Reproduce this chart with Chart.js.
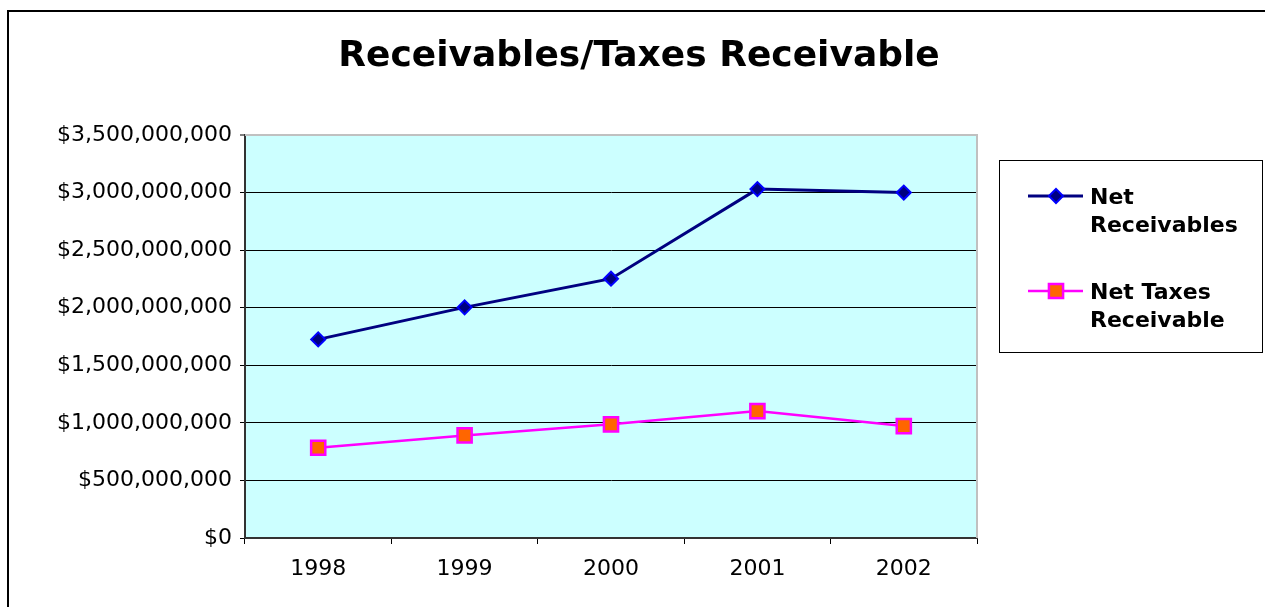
<!DOCTYPE html>
<html>
<head>
<meta charset="utf-8">
<script src="https://cdn.jsdelivr.net/npm/chart.js@4.4.0/dist/chart.umd.min.js"></script>
<style>
  html, body { margin: 0; padding: 0; background: #ffffff; }
  #wrap { position: relative; width: 1265px; height: 607px; }
</style>
</head>
<body>
<div id="wrap"><canvas id="c" width="1265" height="607"></canvas></div>
<script>
// ---- Data ----
const chartTitle = "Receivables/Taxes Receivable";
const years = ["1998", "1999", "2000", "2001", "2002"];
const netReceivables = [1725000000, 2003000000, 2252000000, 3030000000, 3000000000];
const netTaxesReceivable = [784000000, 891000000, 987000000, 1102000000, 972000000];
const seriesLabels = [["Net", "Receivables"], ["Net Taxes", "Receivable"]];
const yMin = 0, yMax = 3500000000, yStep = 500000000;

const FONT = "'DejaVu Sans', Verdana, sans-serif";

const framePlugin = {
  id: 'frame',
  beforeDraw(chart) {
    const { ctx, chartArea: a } = chart;
    ctx.save();
    ctx.fillStyle = '#ffffff';
    ctx.fillRect(0, 0, chart.width, chart.height);
    ctx.fillStyle = '#ccffff';
    ctx.fillRect(a.left, a.top, a.right - a.left, a.bottom - a.top);
    // outer frame
    ctx.strokeStyle = '#000000';
    ctx.lineWidth = 2;
    ctx.beginPath();
    ctx.moveTo(8, chart.height);
    ctx.lineTo(8, 11);
    ctx.lineTo(chart.width, 11);
    ctx.stroke();
    ctx.restore();
  },
  beforeDatasetsDraw(chart) {
    const { ctx, chartArea: a } = chart;
    ctx.save();
    ctx.strokeStyle = '#c0c0c0';
    ctx.lineWidth = 2;
    ctx.beginPath();
    ctx.moveTo(a.left, a.top);
    ctx.lineTo(a.right, a.top);
    ctx.lineTo(a.right, a.bottom);
    ctx.stroke();
    ctx.restore();
  },
  afterDraw(chart) {
    const { ctx } = chart;
    ctx.save();
    // title
    ctx.fillStyle = '#000000';
    ctx.font = "bold 36px " + FONT;
    ctx.textAlign = 'center';
    ctx.textBaseline = 'middle';
    ctx.fillText(chartTitle, 639, 57);
    // legend box
    ctx.strokeStyle = '#000000';
    ctx.lineWidth = 1;
    ctx.strokeRect(999.5, 160.5, 263, 192);
    chart.data.datasets.forEach((ds, i) => {
      const y0 = 196 + i * 95;
      ctx.strokeStyle = ds.borderColor;
      ctx.lineWidth = ds.borderWidth;
      ctx.beginPath();
      ctx.moveTo(1028, y0);
      ctx.lineTo(1083, y0);
      ctx.stroke();
      ctx.fillStyle = ds.pointBackgroundColor;
      ctx.strokeStyle = ds.pointBorderColor;
      ctx.lineWidth = ds.pointBorderWidth;
      if (Chart.helpers && Chart.helpers.drawPoint) {
        Chart.helpers.drawPoint(ctx, { pointStyle: ds.pointStyle, radius: ds.pointRadius, rotation: 0, borderWidth: ds.pointBorderWidth }, 1056, y0);
      }
      ctx.fillStyle = '#000000';
      ctx.font = "bold 22px " + FONT;
      ctx.textAlign = 'left';
      ctx.textBaseline = 'middle';
      ds.label.forEach((line, k) => ctx.fillText(line, 1090, y0 + 2 + k * 28));
    });
    ctx.restore();
  }
};

new Chart(document.getElementById('c'), {
  type: 'line',
  data: {
    labels: years,
    datasets: [
      {
        label: seriesLabels[0],
        data: netReceivables,
        borderColor: '#000080',
        borderWidth: 3,
        pointStyle: 'rectRot',
        pointRadius: 7,
        pointBackgroundColor: '#000080',
        pointBorderColor: '#0000ff',
        pointBorderWidth: 2,
        tension: 0,
        fill: false
      },
      {
        label: seriesLabels[1],
        data: netTaxesReceivable,
        borderColor: '#ff00ff',
        borderWidth: 2.5,
        pointStyle: 'rect',
        pointRadius: 10,
        pointBackgroundColor: '#ff6600',
        pointBorderColor: '#ff00ff',
        pointBorderWidth: 2.5,
        tension: 0,
        fill: false
      }
    ]
  },
  options: {
    responsive: false,
    animation: false,
    devicePixelRatio: 1,
    layout: { padding: { top: 135, right: 288, bottom: 0, left: 0 } },
    plugins: {
      legend: { display: false },
      title: { display: false },
      tooltip: { enabled: false }
    },
    scales: {
      x: {
        offset: true,
        grid: {
          offset: true,
          drawOnChartArea: false,
          drawTicks: true,
          tickLength: 6,
          tickColor: '#000000',
          tickWidth: 1
        },
        border: { color: '#333333', width: 2 },
        ticks: {
          color: '#000000',
          font: { family: FONT, size: 22 },
          padding: 12,
          maxRotation: 0
        },
        afterFit(scale) { scale.height = 69; }
      },
      y: {
        min: yMin,
        max: yMax,
        grid: {
          color: (c) => (c.tick && c.tick.value === yMax ? '#c0c0c0' : '#000000'),
          lineWidth: (c) => (c.tick && c.tick.value === yMax ? 2 : 1),
          tickLength: 5,
          tickColor: '#000000',
          tickWidth: 1
        },
        border: { color: '#333333', width: 2 },
        ticks: {
          stepSize: yStep,
          color: '#000000',
          font: { family: FONT, size: 22 },
          padding: 8,
          callback: (v) => '$' + Number(v).toLocaleString('en-US')
        },
        afterFit(scale) { scale.width = 245; }
      }
    }
  },
  plugins: [framePlugin]
});
</script>
</body>
</html>
